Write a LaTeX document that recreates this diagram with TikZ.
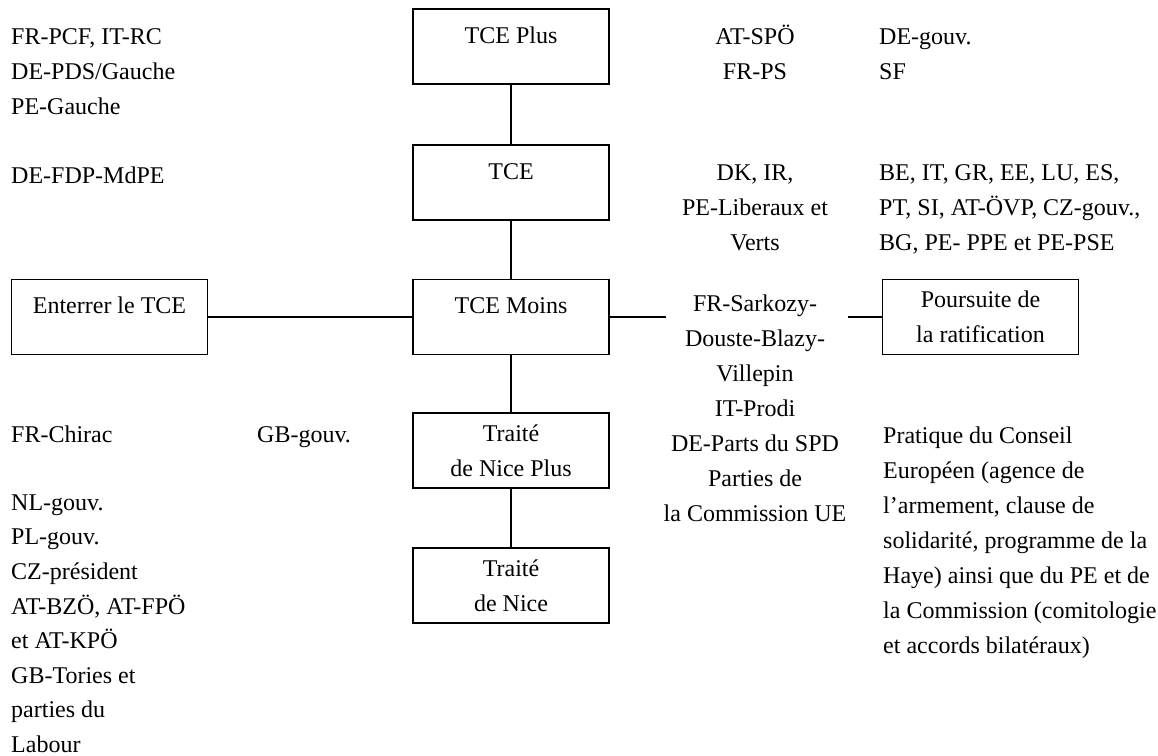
\documentclass[tikz,border=0pt]{standalone}
\usepackage{fontspec}
\setmainfont{Liberation Serif}
\newcommand\tstrut{\rule{0pt}{22pt}}
\begin{document}
\begin{tikzpicture}[x=1pt,y=-1pt,
 every node/.style={font=\fontsize{24}{35}\selectfont, inner sep=0pt},
 box/.style={draw, line width=1.6pt, minimum width=196pt, minimum height=75pt, align=center},
 onebox/.style={box, text height=34pt, text depth=41pt},
 lbl/.style={anchor=north west, align=left},
 clbl/.style={anchor=north, align=center},
 link/.style={line width=1.6pt}]
\useasboundingbox (0,0) rectangle (1158,755);
% boxes
\node[onebox] (plus) at (511,46.5) {TCE Plus};
\node[onebox] (tce) at (511,182.5) {TCE};
\node[onebox] (moins) at (511,317) {TCE Moins};
\node[box] (nplus) at (511,450.5) {Traité\\de Nice Plus};
\node[box] (nice) at (511,585.5) {Traité\\de Nice};
\node[onebox] (enterrer) at (109.5,317) {Enterrer le TCE};
\node[box] (pours) at (980.5,317) {Poursuite de\\la ratification};
\coordinate (c1) at (665.5,317);
\coordinate (c2) at (848,317);
% connectors
\draw[link] (plus) -- (tce);
\draw[link] (tce) -- (moins);
\draw[link] (moins) -- (nplus);
\draw[link] (nplus) -- (nice);
\draw[link] (enterrer) -- (moins);
\draw[link] (moins) -- (c1);
\draw[link] (c2) -- (pours);
% left labels
\node[lbl] (l1) at (11,22) {\tstrut FR-PCF, IT-RC\\DE-PDS/Gauche\\PE-Gauche};
\node[lbl] (l2) at (11,161) {\tstrut DE-FDP-MdPE};
\node[lbl] (l3) at (11,420) {\tstrut FR-Chirac};
\node[lbl, font=\fontsize{24}{34.6}\selectfont] (l4) at (11,488) {\tstrut NL-gouv.\\PL-gouv.\\CZ-président\\AT-BZÖ, AT-FPÖ\\et AT-KPÖ\\GB-Tories et\\parties du\\Labour};
\node[lbl] (gb) at (257,420) {\tstrut GB-gouv.};
% middle labels
\node[clbl] (m1) at (755,22) {\tstrut AT-SPÖ\\FR-PS};
\node[clbl] (m2) at (755,158) {\tstrut DK, IR,\\PE-Liberaux et\\Verts};
\node[clbl] (m3) at (755,289) {\tstrut FR-Sarkozy-\\Douste-Blazy-\\Villepin\\IT-Prodi\\DE-Parts du SPD\\Parties de\\la Commission UE};
% right labels
\node[lbl] (r1) at (879,22) {\tstrut DE-gouv.\\SF};
\node[lbl] (r2) at (879,158) {\tstrut BE, IT, GR, EE, LU, ES,\\PT, SI, AT-ÖVP, CZ-gouv.,\\BG, PE- PPE et PE-PSE};
\node[lbl] (r3) at (883,421) {\tstrut Pratique du Conseil\\Européen (agence de\\l’armement, clause de\\solidarité, programme de la\\Haye) ainsi que du PE et de\\la Commission (comitologie\\et accords bilatéraux)};
\end{tikzpicture}
\end{document}
